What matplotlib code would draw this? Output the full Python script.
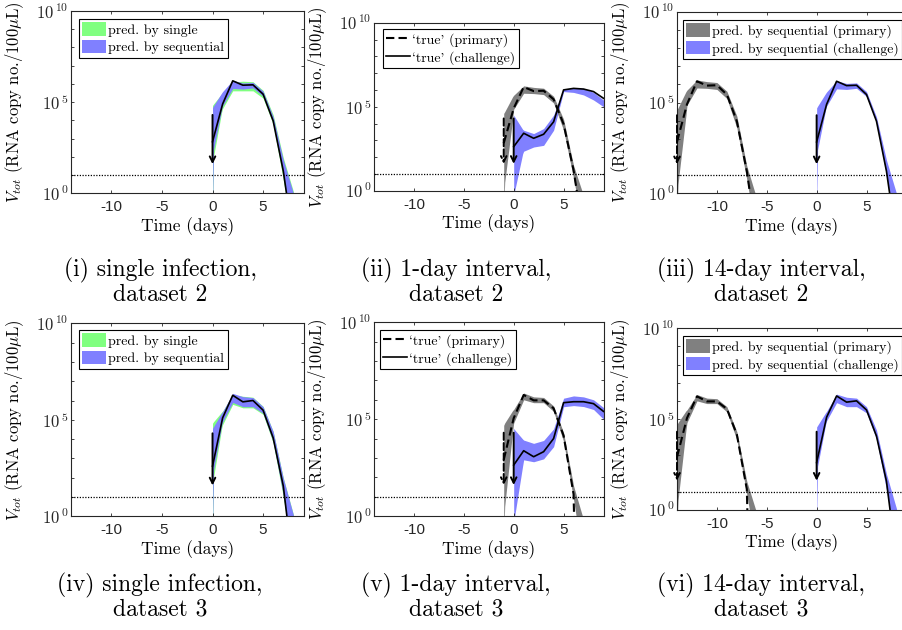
import numpy as np
import matplotlib
matplotlib.use('Agg')
import matplotlib.pyplot as plt
from matplotlib.patches import Patch
from matplotlib.lines import Line2D
from matplotlib.ticker import FixedLocator, FuncFormatter, NullLocator

plt.rcParams['mathtext.fontset'] = 'cm'
plt.rcParams['axes.unicode_minus'] = False

CM = ['cmr10', 'DejaVu Serif']
SANS = ['Liberation Sans', 'DejaVu Sans']

GREEN = '#80ff80'
BLUE = '#8080ff'
GRAY = '#808080'
AXC = '#262626'

# ---- data (log10 of V_tot, RNA copy no./100uL) ----
# 'true' curves, days 0..9 after inoculation
days = np.arange(0, 10)
d2_single = [2.83, 4.9, 6.17, 5.93, 5.95, 5.44, 3.97, 1.22, -2.6, -6]
d3_single = [2.6, 5.1, 6.27, 5.93, 6.0, 5.5, 4.06, 1.57, -2.8, -6]
d3_primary = [2.9, 5.05, 6.25, 5.97, 5.97, 5.56, 4.15, 1.13, -21, -30]
d2_chal1 = [2.62, 3.42, 3.12, 3.36, 4.1, 6.0, 6.09, 6.05, 5.9, 5.5]
d3_chal1 = [2.63, 3.37, 3.06, 3.32, 4.0, 5.85, 5.9, 5.9, 5.8, 5.4]

# prediction bands, times after inoculation
band_t = np.array([0, 0.1, 0.9, 1, 2, 3, 4, 5, 6, 7, 8, 9])
# dataset 2
g2_lo = [-1, 2.0, 4.45, 4.65, 5.62, 5.62, 5.62, 5.22, 3.78, 0.75, -2.6, -6]
g2_hi = [4.82, 4.9, 5.45, 5.5, 6.1, 6.15, 6.12, 5.65, 4.3, 1.95, 0.1, -3]
b2_lo = [-1, 2.4, 4.6, 4.8, 5.75, 5.72, 5.78, 5.33, 3.9, 1.0, -2.3, -6]
b2_hi = [4.7, 4.8, 5.5, 5.58, 6.2, 6.05, 6.08, 5.6, 4.2, 1.83, 0.0, -3]
p2_lo = [-1, 0.5, 4.3, 4.85, 5.8, 5.78, 5.72, 5.22, 3.6, 0.75, -2.5, -6]
p2_hi = [4.6, 4.7, 5.6, 5.68, 6.24, 6.15, 6.1, 5.62, 4.25, 1.5, -0.3, -4]
c2_lo = [-1, 0.0, 2.2, 2.35, 2.6, 2.7, 3.6, 5.9, 5.85, 5.7, 5.4, 5.0]
c2_hi = [4.5, 4.4, 3.65, 3.6, 3.4, 3.7, 4.5, 6.05, 6.1, 6.1, 5.85, 5.4]
# dataset 3
g3_lo = [-1, 2.0, 4.55, 4.75, 5.8, 5.62, 5.62, 5.28, 3.8, 1.0, -2.3, -6]
g3_hi = [4.82, 4.9, 5.4, 5.45, 6.3, 6.22, 6.17, 5.7, 4.4, 2.0, 0.1, -3]
b3_lo = [-1, 2.4, 4.7, 4.9, 5.9, 5.68, 5.68, 5.34, 3.87, 1.1, -2.2, -6]
b3_hi = [4.56, 4.65, 5.35, 5.42, 6.37, 6.2, 6.15, 5.68, 4.39, 1.97, 0.07, -3]
p3_lo = [-1, 0.5, 4.4, 4.8, 6.0, 5.85, 5.85, 5.4, 3.85, 0.85, -2.5, -6]
p3_hi = [4.68, 4.8, 5.45, 5.5, 6.35, 6.15, 6.12, 5.68, 4.3, 1.56, -0.2, -4]
c3_lo = [-1, 0.0, 2.6, 2.9, 2.8, 2.95, 3.58, 5.64, 5.7, 5.65, 5.5, 5.0]
c3_hi = [4.53, 4.45, 3.97, 3.92, 3.75, 3.9, 4.5, 6.08, 6.2, 6.15, 6.0, 5.6]

threshold = 10.0
arrow_top, arrow_tip = 4.3, 1.6
captions = [['(i) single infection,', '(ii) 1-day interval,', '(iii) 14-day interval,'],
            ['(iv) single infection,', '(v) 1-day interval,', '(vi) 14-day interval,']]
dataset_names = ['dataset 2', 'dataset 3']

rows = [
    dict(single=d2_single, primary=d2_single, chal1=d2_chal1,
         g_lo=g2_lo, g_hi=g2_hi, b_lo=b2_lo, b_hi=b2_hi,
         p_lo=p2_lo, p_hi=p2_hi, c_lo=c2_lo, c_hi=c2_hi),
    dict(single=d3_single, primary=d3_primary, chal1=d3_chal1,
         g_lo=g3_lo, g_hi=g3_hi, b_lo=b3_lo, b_hi=b3_hi,
         p_lo=p3_lo, p_hi=p3_hi, c_lo=c3_lo, c_hi=c3_hi),
]

# axes boxes in pixels (left, top, right, bottom)
boxes = [[(71, 11, 303.5, 193.3), (374, 22.7, 603.5, 190.7), (677, 11.7, 906.4, 193.3)],
         [(71, 323.3, 303.5, 516.3), (374, 322.3, 603.5, 516), (677, 328.3, 906.4, 509.7)]]
legend_pos = [[(79, 19), (383, 29), (683, 20)],
              [(79, 330), (380, 330), (683, 336)]]
cap_x = [160, 456, 761]
cap_base = [(276, 301), (591, 616)]

W, H = 902, 630
fig = plt.figure(figsize=(W / 100, H / 100), dpi=100)


def ytick_fmt(v, pos):
    e = int(round(np.log10(v)))
    if e in (0, 5, 10):
        return r'$\mathsf{10^{\,%d}}$' % e
    return ''


def make_axes(box):
    l, t, r, b = box
    ax = fig.add_axes([l / W, 1 - b / H, (r - l) / W, (b - t) / H])
    ax.set_yscale('log')
    ax.set_xlim(-14, 9)
    ax.set_ylim(1, 1e10)
    ax.set_xticks([-10, -5, 0, 5])
    ax.yaxis.set_major_locator(FixedLocator(10.0 ** np.arange(0, 11)))
    ax.yaxis.set_minor_locator(NullLocator())
    ax.yaxis.set_major_formatter(FuncFormatter(ytick_fmt))
    ax.tick_params(direction='in', top=True, right=True, length=2.2, width=0.6,
                   color=AXC, labelcolor=AXC)
    ax.tick_params(axis='x', pad=5, labelsize=11)
    ax.tick_params(axis='y', pad=2, labelsize=12)
    for lbl in ax.get_xticklabels():
        lbl.set_fontfamily(SANS)
    for s in ax.spines.values():
        s.set_color(AXC)
        s.set_linewidth(0.8)
    ax.set_xlabel('Time (days)', fontfamily=CM, fontsize=12.5)
    ax.set_ylabel(r'$V_{tot}$ (RNA copy no./100$\mu$L)', fontfamily=CM, fontsize=12)
    w, h = r - l, b - t
    ax.xaxis.set_label_coords(0.5, -24 / h)
    ax.yaxis.set_label_coords(-45 / w, 0.5)
    ax.axhline(threshold, color='k', ls=(0, (1, 1.2)), lw=0.9, zorder=3)
    return ax


def band(ax, shift, lo, hi, color):
    ax.fill_between(band_t + shift, 10.0 ** np.array(lo), 10.0 ** np.array(hi),
                    color=color, lw=0, zorder=1)


def curve(ax, shift, vals, ls):
    if ls == '--':
        ax.plot(days + shift, 10.0 ** np.array(vals), color='k', lw=1.5,
                dashes=(4, 2), zorder=4)
    else:
        ax.plot(days + shift, 10.0 ** np.array(vals), color='k', lw=1.2, zorder=5)


def arrow(ax, x, ls):
    ax.annotate('', xy=(x, 10 ** arrow_tip), xytext=(x, 10 ** arrow_top),
                arrowprops=dict(arrowstyle='->', color='k', lw=1.4, linestyle=ls,
                                shrinkA=0, shrinkB=0, mutation_scale=10), zorder=6)


def legend(ax, handles, labels, pos):
    leg = ax.legend(handles, labels, loc='upper left',
                    bbox_to_anchor=(pos[0] / W, 1 - pos[1] / H),
                    bbox_transform=fig.transFigure, borderaxespad=0,
                    prop={'family': CM, 'size': 10}, frameon=True, fancybox=False,
                    framealpha=1, edgecolor='k', borderpad=0.25, labelspacing=0.2,
                    handlelength=1.7, handleheight=1.1, handletextpad=0.15)
    leg.get_frame().set_linewidth(0.8)
    leg.set_zorder(10)


for i, rd in enumerate(rows):
    # single infection
    ax = make_axes(boxes[i][0])
    band(ax, 0, rd['g_lo'], rd['g_hi'], GREEN)
    band(ax, 0, rd['b_lo'], rd['b_hi'], BLUE)
    curve(ax, 0, rd['single'], '-')
    arrow(ax, 0, '-')
    legend(ax, [Patch(facecolor=GREEN, edgecolor='none'), Patch(facecolor=BLUE, edgecolor='none')],
           ['pred. by single', 'pred. by sequential'], legend_pos[i][0])

    # 1-day interval
    ax = make_axes(boxes[i][1])
    band(ax, 0, rd['c_lo'], rd['c_hi'], BLUE)
    band(ax, -1, rd['p_lo'], rd['p_hi'], GRAY)
    curve(ax, -1, rd['primary'], '--')
    curve(ax, 0, rd['chal1'], '-')
    arrow(ax, -1, '--')
    arrow(ax, 0, '-')
    legend(ax, [Line2D([], [], color='k', lw=1.5, dashes=(4, 2)), Line2D([], [], color='k', lw=1.2)],
           ["`true' (primary)", "`true' (challenge)"], legend_pos[i][1])

    # 14-day interval
    ax = make_axes(boxes[i][2])
    band(ax, -14, rd['p_lo'], rd['p_hi'], GRAY)
    band(ax, 0, rd['b_lo'], rd['b_hi'], BLUE)
    curve(ax, -14, rd['primary'], '--')
    curve(ax, 0, rd['single'], '-')
    arrow(ax, -14, '--')
    arrow(ax, 0, '-')
    legend(ax, [Patch(facecolor=GRAY, edgecolor='none'), Patch(facecolor=BLUE, edgecolor='none')],
           ['pred. by sequential (primary)', 'pred. by sequential (challenge)'], legend_pos[i][2])

    for j in range(3):
        fig.text(cap_x[j] / W, 1 - cap_base[i][0] / H, captions[i][j], ha='center',
                 va='baseline', fontfamily=CM, fontsize=17)
        fig.text(cap_x[j] / W, 1 - cap_base[i][1] / H, dataset_names[i], ha='center',
                 va='baseline', fontfamily=CM, fontsize=17)

fig.savefig('out.png', dpi=100)
